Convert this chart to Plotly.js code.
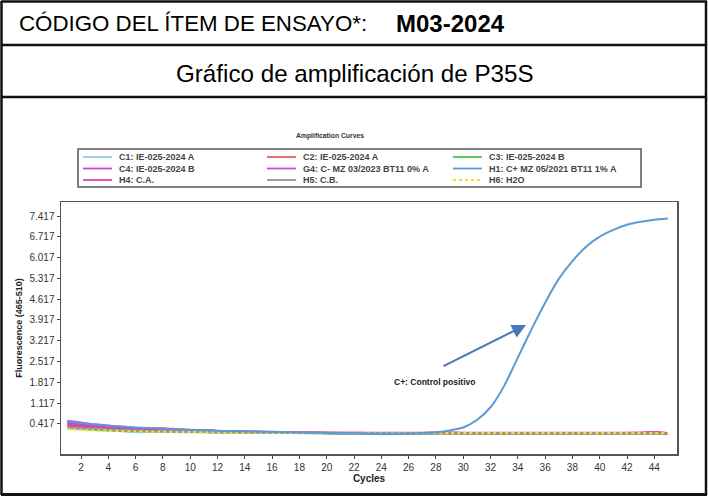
<!DOCTYPE html>
<html>
<head>
<meta charset="utf-8">
<script src="https://cdn.plot.ly/plotly-3.0.1.min.js"></script>
<style>
  html, body { margin: 0; padding: 0; background: #fff; }
  #chart { width: 708px; height: 497px; }
</style>
</head>
<body>
<div id="chart"></div>
<script>
let chart = document.getElementById("chart");

// cycles 1..45
const cycles = [1,2,3,4,5,6,7,8,9,10,11,12,13,14,15,16,17,18,19,20,21,22,23,24,25,26,27,28,29,30,31,32,33,34,35,36,37,38,39,40,41,42,43,44,45];

const seriesNames = [
    "C1: IE-025-2024 A", "C2: IE-025-2024 A", "C3: IE-025-2024 B",
    "C4: IE-025-2024 B", "G4: C- MZ 03/2023 BT11 0% A", "H1: C+ MZ 05/2021 BT11 1% A",
    "H4: C.A.", "H5: C.B.", "H6: H2O"
];
const seriesColors = ["#8fcfee", "#e0605a", "#4cc84c", "#d63fd6", "#c050e8", "#5b9bd5", "#e03fb8", "#959595", "#efe02a"];
const seriesDash = ["solid", "solid", "solid", "solid", "solid", "solid", "solid", "solid", "dot"];

const c1 = [0.32,0.28,0.24,0.21,0.18,0.15,0.15,0.16,0.15,0.14,0.14,0.13,0.13,0.12,0.12,0.12,0.12,0.11,0.11,0.11,0.10,0.10,0.09,0.08,0.08,0.09,0.10,0.10,0.10,0.10,0.10,0.10,0.10,0.11,0.11,0.11,0.10,0.10,0.10,0.10,0.10,0.10,0.11,0.11,0.10];
const c2 = [0.40,0.36,0.33,0.31,0.29,0.27,0.26,0.27,0.24,0.21,0.20,0.18,0.16,0.15,0.14,0.14,0.13,0.13,0.12,0.11,0.11,0.11,0.11,0.11,0.11,0.11,0.11,0.12,0.12,0.11,0.11,0.10,0.10,0.10,0.09,0.10,0.10,0.10,0.11,0.10,0.10,0.10,0.11,0.14,0.10];
const c3 = [0.28,0.25,0.22,0.20,0.19,0.18,0.18,0.17,0.16,0.15,0.15,0.14,0.14,0.14,0.13,0.13,0.12,0.12,0.11,0.11,0.10,0.10,0.10,0.10,0.10,0.10,0.10,0.10,0.10,0.10,0.10,0.09,0.09,0.11,0.11,0.10,0.10,0.10,0.10,0.10,0.10,0.10,0.10,0.10,0.09];
const c4 = [0.45,0.40,0.36,0.33,0.30,0.27,0.25,0.23,0.21,0.20,0.19,0.18,0.17,0.16,0.15,0.14,0.13,0.13,0.12,0.12,0.11,0.11,0.11,0.11,0.11,0.11,0.11,0.12,0.12,0.11,0.11,0.11,0.11,0.11,0.11,0.11,0.11,0.11,0.11,0.11,0.11,0.11,0.12,0.12,0.11];
const g4 = [0.52,0.46,0.40,0.36,0.32,0.28,0.26,0.24,0.22,0.20,0.19,0.18,0.17,0.16,0.15,0.14,0.14,0.13,0.12,0.12,0.12,0.12,0.11,0.11,0.11,0.11,0.11,0.11,0.11,0.11,0.11,0.11,0.11,0.11,0.11,0.11,0.11,0.11,0.11,0.11,0.11,0.11,0.11,0.11,0.11];
const h1 = [0.50,0.45,0.40,0.36,0.33,0.30,0.28,0.26,0.24,0.22,0.21,0.19,0.18,0.17,0.16,0.15,0.14,0.13,0.12,0.12,0.11,0.11,0.10,0.10,0.10,0.10,0.11,0.14,0.20,0.30,0.55,0.98,1.70,2.65,3.60,4.50,5.30,5.90,6.38,6.72,6.95,7.12,7.22,7.29,7.33];
const h4 = [0.36,0.33,0.30,0.29,0.27,0.24,0.23,0.24,0.22,0.20,0.19,0.18,0.17,0.16,0.15,0.15,0.14,0.13,0.13,0.12,0.12,0.12,0.12,0.12,0.12,0.12,0.12,0.12,0.12,0.12,0.12,0.12,0.12,0.12,0.12,0.12,0.12,0.12,0.12,0.12,0.12,0.12,0.12,0.13,0.11];
const h5 = [0.30,0.27,0.25,0.23,0.21,0.19,0.18,0.17,0.16,0.15,0.15,0.14,0.14,0.13,0.13,0.13,0.12,0.12,0.12,0.11,0.11,0.11,0.10,0.10,0.10,0.10,0.10,0.10,0.10,0.10,0.10,0.10,0.10,0.10,0.10,0.10,0.10,0.10,0.10,0.10,0.10,0.10,0.10,0.10,0.10];
const h6 = [0.25,0.22,0.20,0.19,0.18,0.17,0.16,0.16,0.15,0.15,0.14,0.14,0.13,0.13,0.13,0.12,0.12,0.12,0.12,0.12,0.12,0.12,0.12,0.12,0.12,0.11,0.11,0.11,0.11,0.11,0.11,0.11,0.11,0.11,0.11,0.11,0.11,0.11,0.11,0.11,0.11,0.11,0.11,0.11,0.11];
const seriesValues = [c1, c2, c3, c4, g4, h1, h4, h5, h6];

const yTicks = [0.417, 1.117, 1.817, 2.517, 3.217, 3.917, 4.617, 5.317, 6.017, 6.717, 7.417];
const xTicks = [2,4,6,8,10,12,14,16,18,20,22,24,26,28,30,32,34,36,38,40,42,44];

const headerCode = "CÓDIGO DEL ÍTEM DE ENSAYO*:";
const headerItem = "M03-2024";
const headerTitle = "Gráfico de amplificación de P35S";
const chartTitle = "Amplification Curves";
const arrowLabel = "C+: Control positivo";

// plot area in pixels
const M = { l: 61, r: 31, t: 202, b: 43 };
const W = 708, H = 497;
const PW = W - M.l - M.r, PH = H - M.t - M.b;
// pixel -> paper
function px(x) { return (x - M.l) / PW; }
function py(y) { return (H - M.b - y) / PH; }

const font = "Arial, 'Liberation Sans', sans-serif";

let traces = [];
// draw positive control last so it sits on top
let order = [0, 1, 2, 3, 4, 6, 7, 8, 5];
for (let k of order) {
    traces.push({
        x: cycles,
        y: seriesValues[k],
        name: seriesNames[k],
        type: "scatter",
        mode: "lines",
        line: { color: seriesColors[k], width: k === 5 ? 2 : 2.3, dash: seriesDash[k], shape: "spline", smoothing: 0.6 },
        showlegend: false,
    });
}

let shapes = [];
let annotations = [];

function hline(x0, x1, y, w) {
    shapes.push({ type: "line", xref: "paper", yref: "paper", x0: px(x0), x1: px(x1), y0: py(y), y1: py(y), line: { color: "#111", width: w } });
}
function vline(x, y0, y1, w) {
    shapes.push({ type: "line", xref: "paper", yref: "paper", x0: px(x), x1: px(x), y0: py(y0), y1: py(y1), line: { color: "#111", width: w } });
}

// outer frame and header rows
hline(1, 707, 1.5, 2.5);
hline(1, 707, 45, 2.5);
hline(1, 707, 97, 2.5);
hline(1, 707, 494.5, 3);
vline(1.5, 1, 495, 2.5);
vline(706, 1, 495, 2.5);

annotations.push({ xref: "paper", yref: "paper", x: px(17), y: py(23), xanchor: "left", yanchor: "middle", showarrow: false,
    text: headerCode, font: { family: font, size: 22.3, color: "#000" } });
annotations.push({ xref: "paper", yref: "paper", x: px(394), y: py(23), xanchor: "left", yanchor: "middle", showarrow: false,
    text: "<b>" + headerItem + "</b>", font: { family: font, size: 24, color: "#000" } });
annotations.push({ xref: "paper", yref: "paper", x: px(355), y: py(73), xanchor: "center", yanchor: "middle", showarrow: false,
    text: headerTitle, font: { family: font, size: 24.2, color: "#000" } });

annotations.push({ xref: "paper", yref: "paper", x: px(330), y: py(136), xanchor: "center", yanchor: "middle", showarrow: false,
    text: "<b>" + chartTitle + "</b>", font: { family: font, size: 6.8, color: "#333" } });

// legend box, 3 columns
shapes.push({ type: "rect", xref: "paper", yref: "paper", x0: px(78), x1: px(641), y0: py(149), y1: py(187),
    line: { color: "#555", width: 1.5 }, fillcolor: "rgba(0,0,0,0)" });
const colX = [83, 267, 453];
const rowY = [157, 168.5, 180];
for (let i = 0; i < seriesNames.length; i++) {
    let cx = colX[i % 3], cy = rowY[Math.floor(i / 3)];
    shapes.push({ type: "line", xref: "paper", yref: "paper", x0: px(cx), x1: px(cx + 29), y0: py(cy), y1: py(cy),
        line: { color: seriesColors[i], width: 1.8, dash: seriesDash[i] } });
    annotations.push({ xref: "paper", yref: "paper", x: px(cx + 34), y: py(cy), xanchor: "left", yanchor: "middle", showarrow: false,
        text: "<b>" + seriesNames[i] + "</b>", font: { family: font, size: 9, color: "#444" } });
}

// arrow to the positive control curve
annotations.push({ x: 34.6, y: 3.75, xref: "x", yref: "y", text: "", showarrow: true, ax: -84, ay: 42,
    arrowhead: 2, arrowsize: 1.4, arrowwidth: 2, arrowcolor: "#4f74b8" });
annotations.push({ xref: "paper", yref: "paper", x: px(392), y: py(382), xanchor: "left", yanchor: "middle", showarrow: false,
    text: "<b>" + arrowLabel + "</b>", font: { family: font, size: 8.5, color: "#222" } });

let layout = {
    width: W,
    height: H,
    margin: M,
    paper_bgcolor: "#fff",
    plot_bgcolor: "#fff",
    showlegend: false,
    font: { family: font, color: "#333" },
    xaxis: {
        range: [0.535, 45.66],
        tickvals: xTicks,
        ticktext: xTicks.map(String),
        ticks: "outside",
        ticklen: 3,
        tickcolor: "#444",
        tickfont: { size: 10, color: "#333" },
        showgrid: false,
        zeroline: false,
        showline: true,
        linecolor: "#555",
        linewidth: 1.5,
        mirror: true,
        title: { text: "<b>Cycles</b>", font: { size: 10, color: "#222" }, standoff: 0 },
    },
    yaxis: {
        range: [-0.593, 7.888],
        tickvals: yTicks,
        ticktext: yTicks.map(v => v.toFixed(3)),
        ticks: "outside",
        ticklen: 3,
        tickcolor: "#444",
        tickfont: { size: 10, color: "#333" },
        showgrid: false,
        zeroline: false,
        showline: true,
        linecolor: "#555",
        linewidth: 1.5,
        mirror: true,
        title: { text: "<b>Fluorescence (465-510)</b>", font: { size: 9, color: "#222" }, standoff: 5 },
    },
    shapes: shapes,
    annotations: annotations,
};

Plotly.newPlot(chart, traces, layout, { displayModeBar: false, staticPlot: true });
</script>
</body>
</html>
